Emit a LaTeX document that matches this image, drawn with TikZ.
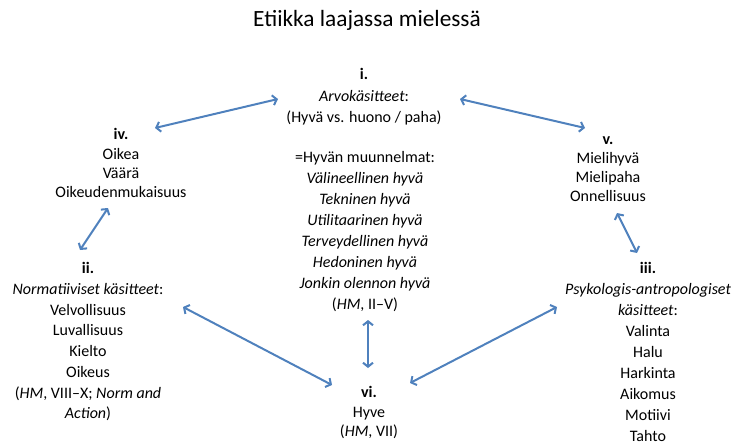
\documentclass[tikz,border=0pt]{standalone}
\usepackage{fontspec}
\setmainfont{Carlito}
\usetikzlibrary{arrows.meta}
\definecolor{arrowblue}{HTML}{4F81BD}
\tikzset{
  txt/.style={anchor=north, inner sep=0pt, align=center, font=\fontsize{16}{#1}\selectfont},
  txt/.default=21,
  dbl/.style={draw=arrowblue, line width=2pt, {Straight Barb[length=4pt,width=10pt]}-{Straight Barb[length=4pt,width=10pt]}}
}
\newcommand{\ls}{\strut}
\begin{document}
\begin{tikzpicture}[x=1pt,y=-1pt]
\useasboundingbox (0,0) rectangle (738,444);
\node[anchor=center, inner sep=0pt, font=\fontsize{23.3}{28}\selectfont] (title) at (367,20) {Etiikka laajassa mielessä};
\node[txt=21.5] (i) at (364,64.65) {\ls\textbf{i.}\\\ls\textit{Arvokäsitteet}:\\\ls(Hyvä vs. huono / paha)};
\node[txt=19.3] (iv) at (121,126.2) {\ls\textbf{iv.}\\\ls Oikea\\\ls Väärä\\\ls Oikeudenmukaisuus};
\node[txt=19] (v) at (608,131.4) {\ls\textbf{v.}\\\ls Mielihyvä\\\ls Mielipaha\\\ls Onnellisuus};
\node[txt=21] (mid) at (365,148) {\ls=Hyvän muunnelmat:\\\ls\textit{Välineellinen hyvä}\\\ls\textit{Tekninen hyvä}\\\ls\textit{Utilitaarinen hyvä}\\\ls\textit{Terveydellinen hyvä}\\\ls\textit{Hedoninen hyvä}\\\ls\textit{Jonkin olennon hyvä}\\\ls(\textit{HM}, II–V)};
\node[txt=20.7] (ii) at (88,259.2) {\ls\textbf{ii.}\\\ls\textit{Normatiiviset käsitteet}:\\\ls Velvollisuus\\\ls Luvallisuus\\\ls Kielto\\\ls Oikeus\\\ls(\textit{HM}, VIII–X; \textit{Norm and}\\\ls\textit{Action})};
\node[txt=20.9] (iii) at (648,259.1) {\ls\textbf{iii.}\\\ls\textit{Psykologis-antropologiset}\\\ls\textit{käsitteet}:\\\ls Valinta\\\ls Halu\\\ls Harkinta\\\ls Aikomus\\\ls Motiivi\\\ls Tahto};
\node[txt=19.5] (vi) at (369,384) {\ls\textbf{vi.}\\\ls Hyve\\\ls(\textit{HM}, VII)};
% arrow end points
\coordinate (a1s) at (278,99);  \coordinate (a1e) at (155,128);
\coordinate (a2s) at (460,99);  \coordinate (a2e) at (585,128);
\coordinate (a3s) at (108,208); \coordinate (a3e) at (80,250);
\coordinate (a4s) at (617,213); \coordinate (a4e) at (637,253);
\coordinate (a5s) at (183,307); \coordinate (a5e) at (332,385);
\coordinate (a6s) at (557,307); \coordinate (a6e) at (410,383);
\coordinate (a7s) at (368,320); \coordinate (a7e) at (368,368);
\draw[dbl] (a1s) -- (a1e);
\draw[dbl] (a2s) -- (a2e);
\draw[dbl] (a3s) -- (a3e);
\draw[dbl] (a4s) -- (a4e);
\draw[dbl] (a5s) -- (a5e);
\draw[dbl] (a6s) -- (a6e);
\draw[dbl] (a7s) -- (a7e);
\end{tikzpicture}
\end{document}
